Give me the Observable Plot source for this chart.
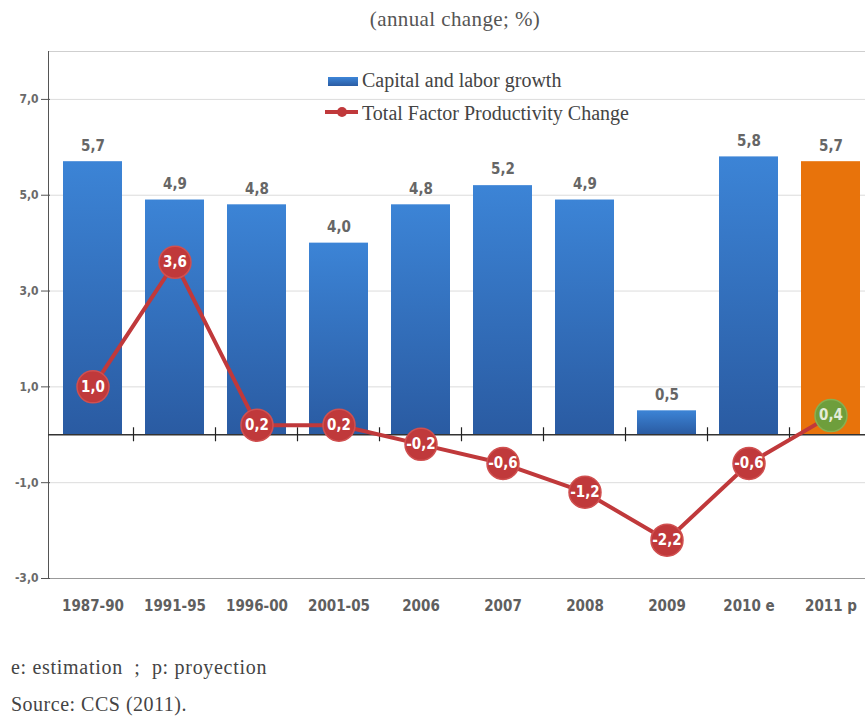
<!DOCTYPE html>
<html>
<head>
<meta charset="utf-8">
<script src="https://cdn.jsdelivr.net/npm/d3@7"></script>
<script src="https://cdn.jsdelivr.net/npm/@observablehq/plot@0.6"></script>
<style>
  html, body { margin: 0; padding: 0; background: #fff; overflow: hidden; width: 865px; height: 718px; }
  #wrap { position: relative; width: 865px; height: 718px; }
  .serif { font-family: "Liberation Serif", "DejaVu Serif", serif; color: #444; position: absolute; white-space: nowrap; line-height: 1.15; }
  #title { top: 7px; left: 455px; transform: translateX(-50%); font-size: 21px; letter-spacing: 0.4px; color: #555; }
  #chart { position: absolute; top: 40px; left: 0; }
  .leg { font-size: 20px; }
  .sw-bar { position: absolute; width: 30px; height: 9px; background: linear-gradient(#3d85d8, #2a5ca3); }
  .sw-line { position: absolute; width: 33px; height: 4px; background: #c0393b; }
  .sw-dot { position: absolute; width: 10px; height: 10px; border-radius: 50%; background: #c0393b; }
  #note1 { top: 656px; left: 11px; font-size: 20px; letter-spacing: 0.7px; }
  #note2 { top: 693px; left: 11px; font-size: 20px; letter-spacing: 0.5px; }
</style>
</head>
<body>
<div id="wrap">
  <div id="title" class="serif">(annual change; %)</div>
  <div id="chart"></div>
  <div class="sw-bar" style="left:328px; top:77px;"></div>
  <div class="serif leg" style="left:362px; top:69px;">Capital and labor growth</div>
  <div class="sw-line" style="left:325px; top:110px;"></div>
  <div class="sw-dot" style="left:337px; top:107px;"></div>
  <div class="serif leg" style="left:362px; top:102px;">Total Factor Productivity Change</div>
  <div id="note1" class="serif">e: estimation&nbsp; ;&nbsp; p: proyection</div>
  <div id="note2" class="serif">Source: CCS (2011).</div>
</div>
<script>
const categories = ["1987-90", "1991-95", "1996-00", "2001-05", "2006", "2007", "2008", "2009", "2010 e", "2011 p"];
const capitalLabor = [5.7, 4.9, 4.8, 4.0, 4.8, 5.2, 4.9, 0.5, 5.8, 5.7];
const tfpChange = [1.0, 3.6, 0.2, 0.2, -0.2, -0.6, -1.2, -2.2, -0.6, 0.4];
const yTicks = [-3, -1, 1, 3, 5, 7];

const data = categories.map((c, i) => ({cat: c, cap: capitalLabor[i], tfp: tfpChange[i], last: i === categories.length - 1}));
const fmt = v => v.toFixed(1).replace(".", ",");
const numFont = `"Liberation Sans Narrow", "DejaVu Sans Condensed", "Roboto", sans-serif`;

const defs = () => {
  const d = d3.create("svg:defs");
  const g = d.append("linearGradient").attr("id", "blueGrad").attr("x1", 0).attr("y1", 0).attr("x2", 0).attr("y2", 1);
  g.append("stop").attr("offset", "0%").attr("stop-color", "#3c84d6");
  g.append("stop").attr("offset", "100%").attr("stop-color", "#2a5ba2");
  return d.node();
};

const boundaryTicks = (index, scales) => {
  const x = scales.x, y = scales.y;
  const g = d3.create("svg:g").attr("stroke", "#222").attr("stroke-width", 1.2);
  const y0 = y(0);
  const step = x(categories[1]) - x(categories[0]);
  const pad = (step - x.bandwidth()) / 2;
  categories.slice(1).forEach(c => {
    const xx = x(c) - pad;
    g.append("line").attr("x1", xx).attr("x2", xx).attr("y1", y0 - 7).attr("y2", y0 + 7);
  });
  return g.node();
};

const chart = Plot.plot({
  width: 865,
  height: 600,
  marginTop: 11,
  marginBottom: 62,
  marginLeft: 48,
  marginRight: 0,
  x: {domain: categories, range: [35, 888], padding: 0.28, axis: null},
  y: {domain: [-3, 8], axis: null},
  marks: [
    defs,
    Plot.gridY([-1, 1, 3, 5, 7], {stroke: "#dcdcdc", strokeOpacity: 1}),
    Plot.ruleY([8], {stroke: "#cfcfcf"}),
    Plot.ruleY([-3], {stroke: "#999"}),
    Plot.frame({anchor: "left", stroke: "#555"}),
    Plot.axisY(yTicks, {anchor: "left", tickSize: 9, tickFormat: () => "", stroke: "#555", dx: 2}),
    Plot.text(yTicks, {y: d => d, frameAnchor: "left", dx: -10, textAnchor: "end", text: fmt, fontSize: 12, fontWeight: "bold", fill: "#6a6a6a", fontFamily: numFont}),
    Plot.axisX(categories, {anchor: "bottom", label: null, tickSize: 0, tickPadding: 22, fontSize: 15, fontWeight: "bold", fill: "#5f5f5f", fontFamily: numFont}),
    Plot.barY(data, {filter: d => !d.last, x: "cat", y: "cap", fill: "url(#blueGrad)"}),
    Plot.barY(data, {filter: d => d.last, x: "cat", y: "cap", fill: "#e8730b"}),
    Plot.text(data, {x: "cat", y: "cap", text: d => fmt(d.cap), dy: -16, fontSize: 15, fontWeight: "bold", fill: "#666", fontFamily: numFont}),
    Plot.ruleY([0], {stroke: "#333", strokeWidth: 1.5}),
    boundaryTicks,
    Plot.line(data, {x: "cat", y: "tfp", stroke: "#c0393b", strokeWidth: 4}),
    Plot.dot(data, {x: "cat", y: "tfp", r: 16, fill: d => d.last ? "#6e9e3c" : "#c0393b", stroke: d => d.last ? "#86b052" : "#d05050", strokeWidth: 1.5}),
    Plot.text(data, {x: "cat", y: "tfp", text: d => fmt(d.tfp), fontSize: 15, fontWeight: "bold", fill: d => d.last ? "#e4ecd8" : "#fff", fontFamily: numFont})
  ]
});
document.getElementById("chart").appendChild(chart);
</script>
</body>
</html>
